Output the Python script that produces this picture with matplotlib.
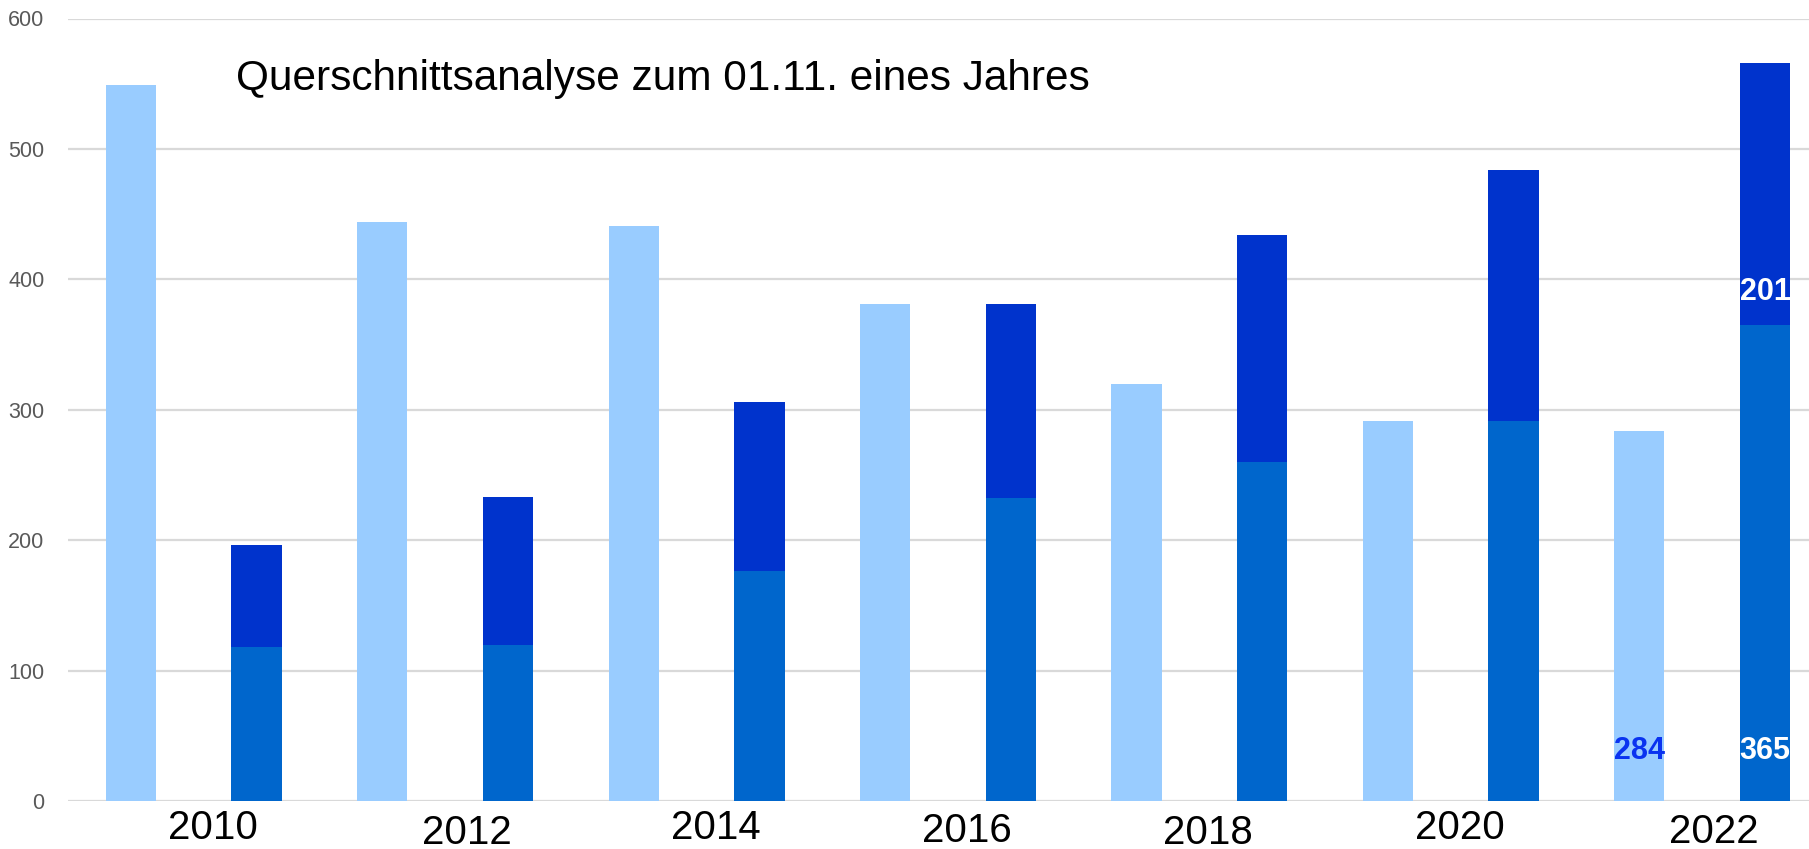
"""Querschnittsanalyse zum 01.11. eines Jahres - stacked/alternating bar chart."""
import matplotlib
matplotlib.use("Agg")
import matplotlib.pyplot as plt
import matplotlib.transforms as mtransforms

# light bars (odd years)
light_years = [2009, 2011, 2013, 2015, 2017, 2019, 2021]
light_values = [549, 444, 441, 381, 320, 291, 284]

# stacked bars (even years)
dark_years = [2010, 2012, 2014, 2016, 2018, 2020, 2022]
base_values = [118, 120, 176, 232, 260, 291, 365]
top_values = [78, 113, 130, 149, 174, 193, 201]

year_labels = ["2010", "2012", "2014", "2016", "2018", "2020", "2022"]
# hand-placed year text boxes: x shift (in years) and drop below axis (px)
label_dx = [-0.35, -0.33, -0.35, -0.35, -0.43, -0.43, -0.41]
label_dy = [27, 32, 27, 30, 32, 27, 31]

LIGHT = "#99CCFF"
MID = "#0066CC"
DARK = "#0033CC"
GRID = "#D9D9D9"

plt.rcParams["font.family"] = ["Liberation Sans", "DejaVu Sans"]

fig = plt.figure(figsize=(18.09, 8.49), dpi=100)
ax = fig.add_axes([68 / 1809, 48 / 849, 1 - 68 / 1809, (801 - 18.5) / 849])

ax.bar(light_years, light_values, width=0.4, color=LIGHT, zorder=2)
ax.bar(dark_years, base_values, width=0.4, color=MID, zorder=2)
ax.bar(dark_years, top_values, width=0.4, bottom=base_values, color=DARK, zorder=2)

ax.set_xlim(2008.5, 2022.35)
ax.set_ylim(0, 600)
ax.set_yticks(range(0, 601, 100))
ax.yaxis.grid(True, color=GRID, linewidth=1.6, zorder=0)
ax.set_axisbelow(True)
for s in ax.spines.values():
    s.set_visible(False)
ax.tick_params(axis="y", length=0, pad=17, labelsize=15.5, labelcolor="#595959")
ax.set_xticks([])

narrow = ["Liberation Sans Narrow", "Liberation Sans", "DejaVu Sans"]
for yr, lab, dx, dy in zip(dark_years, year_labels, label_dx, label_dy):
    tr = mtransforms.blended_transform_factory(ax.transData, ax.transAxes) + \
        mtransforms.ScaledTranslation(0, -dy / 100, fig.dpi_scale_trans)
    ax.text(yr + dx, 0, lab, transform=tr, ha="center", va="center",
            fontsize=29, family=narrow, color="black")

# data labels on the last pair
ax.text(light_years[-1], 38, str(light_values[-1]), ha="center", va="center",
        fontsize=22, fontweight="bold", color="#0A33F0", zorder=3)
ax.text(dark_years[-1], 38, str(base_values[-1]), ha="center", va="center",
        fontsize=22, fontweight="bold", color="white", zorder=3)
ax.text(dark_years[-1], 390, str(top_values[-1]), ha="center", va="center",
        fontsize=22, fontweight="bold", color="white", zorder=3)

fig.text(236 / 1809, 1 - 79 / 849, "Querschnittsanalyse zum 01.11. eines Jahres",
         ha="left", va="center", fontsize=30.5, color="black")

fig.savefig("out.png", dpi=100)
